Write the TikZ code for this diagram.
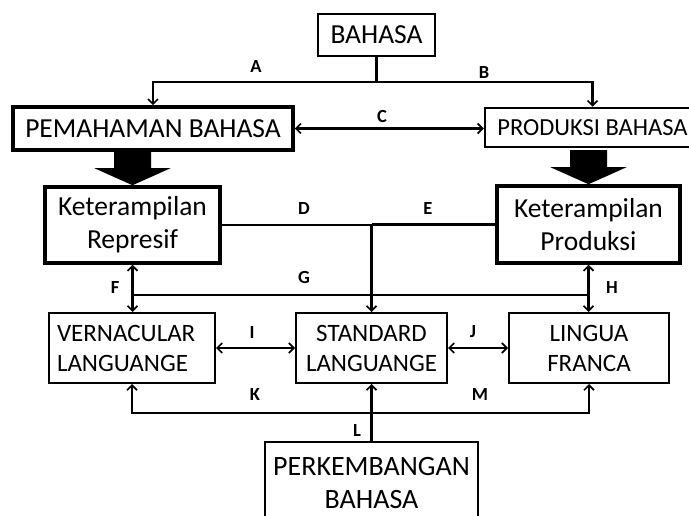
\documentclass[tikz,border=0pt]{standalone}
\usepackage{fontspec}
\setmainfont{Carlito}
\usetikzlibrary{arrows.meta,calc}
\begin{document}
\begin{tikzpicture}[x=1pt,y=-1pt,
  box/.style={draw,line width=2pt,inner sep=0pt,align=center,anchor=center},
  thickbox/.style={box,line width=3.5pt},
  conn/.style={line width=2.2pt},
  arr/.style={conn,-{Straight Barb[length=5pt,width=10pt,line width=1.7pt]}},
  darr/.style={conn,{Straight Barb[length=5pt,width=10pt,line width=1.7pt]}-{Straight Barb[length=5pt,width=10pt,line width=1.7pt]}},
  lbl/.style={font=\fontsize{18.5}{20}\selectfont\bfseries,inner sep=0pt,anchor=center},
  bigtxt/.style={font=\fontsize{27.5}{33}\selectfont},
  midtxt/.style={font=\fontsize{25}{30}\selectfont}]
\useasboundingbox (0,0) rectangle (689,516);

% top level
\node[box,bigtxt,minimum width=117pt,minimum height=42pt] (bahasa) at (376.5,35) {BAHASA};
\node[thickbox,bigtxt,minimum width=280pt,minimum height=43pt] (pem) at (153,128.5) {PEMAHAMAN BAHASA};
\node[box,line width=2.5pt,font=\fontsize{24.5}{30}\selectfont,minimum width=215pt,minimum height=39pt] (prod) at (592.5,127.5) {PRODUKSI BAHASA};

% skills
\node[thickbox,bigtxt,minimum width=175pt,minimum height=76pt] (kr) at (132.5,225) {Keterampilan\\Represif};
\node[thickbox,bigtxt,minimum width=183pt,minimum height=77pt] (kp) at (588.5,224.5) {Keterampilan\\Produksi};

% language varieties
\node[box,midtxt,minimum width=166pt,minimum height=70pt,align=left,text width=150pt] (vern) at (132,348) {VERNACULAR\\LANGUANGE};
\node[box,midtxt,minimum width=151pt,minimum height=70pt] (std) at (371.5,348) {STANDARD\\LANGUANGE};
\node[box,midtxt,minimum width=160pt,minimum height=70pt] (ling) at (589,348) {LINGUA\\FRANCA};

% development
\node[box,font=\fontsize{28}{33}\selectfont,minimum width=213pt,minimum height=82pt] (perk) at (371.5,483) {PERKEMBANGAN\\BAHASA};

% BAHASA splits into comprehension and production
\coordinate (split) at (bahasa.south |- 0,82);
\draw[conn] (bahasa.south) -- (split);
\draw[arr] (split) -| (pem.north);
\draw[arr] (split) -| (prod.north);
\draw[darr] (pem.east) -- (pem.east -| prod.west);

% block arrows into the skill boxes
\foreach \n in {kr,kp}{
  \begin{scope}[shift={(\n.north)}]
    \fill (-18.5,-34) -- (18.5,-34) -- (18.5,-17) -- (38,-17) -- (0,0)
          -- (-38,-17) -- (-18.5,-17) -- cycle;
  \end{scope}
}

% D and E join into the standard language
\coordinate (de) at (std.north |- kr.east);
\draw[conn] (kr.east) -- (de);
\draw[conn] (kp.west) -- (kp.west -| de);
\draw[arr] (de) -- (std.north);

% F, G, H
\draw[darr] (kr.south) -- (kr.south |- vern.north);
\draw[darr] (kp.south) -- (kp.south |- ling.north);
\coordinate (gl) at (kr.south |- 0,295);
\coordinate (gr) at (kp.south |- 0,295);
\draw[conn] (gl) -- (gr);

% I and J
\draw[darr] (vern.east) -- (std.west);
\draw[darr] (std.east) -- (ling.west);

% K, L, M
\coordinate (lj) at (perk.north |- 0,413);
\draw[arr] (perk.north) -- (std.south);
\draw[arr] (lj) -| (vern.south);
\draw[arr] (lj) -| (ling.south);

% connector labels
\node[lbl] (la) at (256,67) {A};
\node[lbl] (lb) at (484,73) {B};
\node[lbl] (lc) at (382,116) {C};
\node[lbl] (ld) at (304,209) {D};
\node[lbl] (le) at (428,209) {E};
\node[lbl] (lf) at (115,288) {F};
\node[lbl] (lg) at (304,277) {G};
\node[lbl] (lh) at (612,288) {H};
\node[lbl] (li) at (252,333) {I};
\node[lbl] (lj2) at (473,332) {J};
\node[lbl] (lk) at (255,395) {K};
\node[lbl] (ll) at (357,431) {L};
\node[lbl] (lm) at (480,395) {M};
\end{tikzpicture}
\end{document}
